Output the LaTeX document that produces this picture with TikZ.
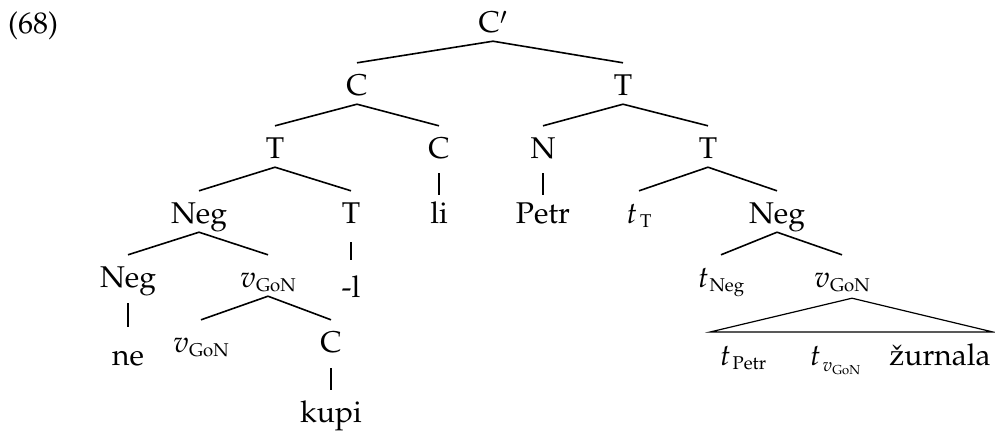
\documentclass[tikz,border=0pt]{standalone}
\usepackage[T1]{fontenc}
\usepackage{mathpazo}
\usetikzlibrary{calc}
\newcommand{\sbs}[1]{\raisebox{-4pt}{\fontsize{18.5}{20}\selectfont #1}}
\newcommand{\sbss}[1]{\raisebox{-3pt}{\fontsize{13}{14}\selectfont #1}}
\newcommand{\vgon}{$v$\sbs{GoN}}
\tikzset{
  tn/.style={anchor=base, inner xsep=0pt, inner ysep=2pt, text height=30pt, text depth=7pt, font=\fontsize{30}{36}\selectfont},
  br/.style={line width=1.6pt},
  unary/.style={line width=1.6pt},
}
\begin{document}
\begin{tikzpicture}[x=1pt,y=-1pt]
\useasboundingbox (0,0) rectangle (995,437);
% labels
\node[anchor=base west, inner sep=0pt, font=\fontsize{30}{36}\selectfont] (ex) at (8,33) {(68)};
% row 1
\node[tn] (Cp) at (493,32) {C\raisebox{-3pt}{$'$}};
% row 2
\node[tn] (C2) at (357,95) {C};
\node[tn] (T2) at (623,95) {T};
% row 3
\node[tn] (T3) at (275,158) {T};
\node[tn] (C3) at (439,158) {C};
\node[tn] (N3) at (543,158) {N};
\node[tn] (T3r) at (708,158) {T};
% row 4
\node[tn] (Neg4) at (199,223) {Neg};
\node[tn] (T4) at (351,223) {T};
\node[tn] (li) at (439,223) {li};
\node[tn] (Petr) at (543,223) {Petr};
\node[tn] (tT) at (639,223) {$t$\kern3pt\sbs{T}};
\node[tn] (Neg4r) at (777,223) {Neg};
% row 5
\node[tn] (Neg5) at (128,287) {Neg};
\node[tn] (v5) at (268,287) {\vgon};
\node[tn] (l5) at (351,297) {-l};
\node[tn] (tNeg) at (721,287) {$t$\kern1pt\sbs{Neg}};
\node[tn] (v5r) at (842,287) {\vgon};
% row 6
\node[tn] (ne) at (128,365) {ne};
\node[tn] (v6) at (201,352) {\vgon};
\node[tn] (C6) at (331,352) {C};
\node[tn] (tPetr) at (743,365) {$t$\kern2pt\sbs{Petr}};
\node[tn] (tv) at (835,365) {$t$\kern2pt\raisebox{-6pt}{\fontsize{18.5}{20}\selectfont$v$\sbss{GoN}}};
\node[tn] (zurn) at (940,365) {\v{z}urnala};
% row 7
\node[tn] (kupi) at (331,422) {kupi};
% triangle corners
\coordinate (trl) at (710,332);
\coordinate (trr) at (993,332);
\coordinate (apex) at ($(v5r.south)+(10,2)$);
% branches
\draw[br] (Cp.south) -- (C2.north);
\draw[br] (Cp.south) -- (T2.north);
\draw[br] (C2.south) -- (T3.north);
\draw[br] (C2.south) -- (C3.north);
\draw[br] (T2.south) -- (N3.north);
\draw[br] (T2.south) -- (T3r.north);
\draw[br] (T3.south) -- (Neg4.north);
\draw[br] (T3.south) -- (T4.north);
\draw[unary, shorten <=6pt, shorten >=-4pt] (C3.south) -- (li.north);
\draw[unary, shorten <=6pt, shorten >=-4pt] (N3.south) -- (Petr.north);
\draw[br] (T3r.south) -- (tT.north);
\draw[br] (T3r.south) -- (Neg4r.north);
\draw[br] (Neg4.south) -- (Neg5.north);
\draw[br] (Neg4.south) -- (v5.north);
\draw[unary, shorten <=10pt, shorten >=5pt] (T4.south) -- (l5.north);
\draw[br] (Neg4r.south) -- (tNeg.north);
\draw[br] (Neg4r.south) -- (v5r.north);
\draw[unary, shorten <=7pt, shorten >=6pt] (Neg5.south) -- (ne.north);
\draw[br] (v5.south) -- (v6.north);
\draw[br] (v5.south) -- (C6.north);
\draw[unary, shorten <=7pt, shorten >=0pt] (C6.south) -- (kupi.north);
\draw[line width=1.2pt, line join=miter] (apex) -- (trr) -- (trl) -- cycle;
\end{tikzpicture}
\end{document}
